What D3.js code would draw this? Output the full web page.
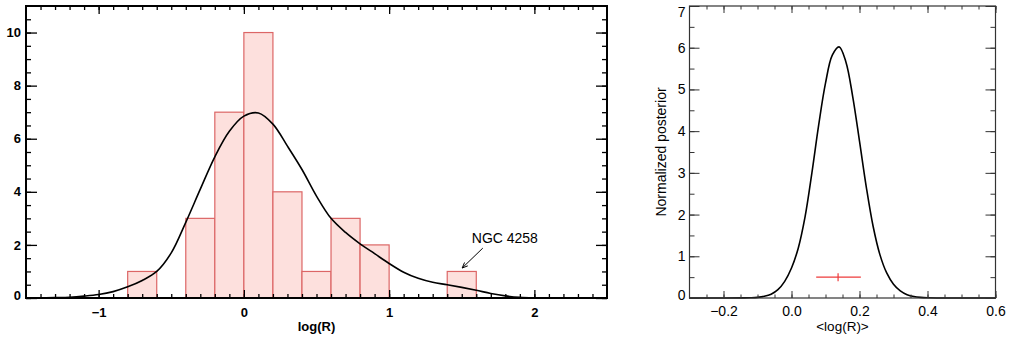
<!DOCTYPE html>
<html>
<head>
<meta charset="utf-8">
<script src="https://cdn.jsdelivr.net/npm/d3@7"></script>
<style>
  html, body { margin: 0; padding: 0; background: #fff; }
  svg { display: block; font-family: "Liberation Sans", Arial, sans-serif; }
</style>
</head>
<body>
<div id="chart"></div>
<script>
// histogram of log(R), bins of width 0.2
const binStarts = [-0.8, -0.4, -0.2, 0.0, 0.2, 0.4, 0.6, 0.8, 1.4]
const binCounts = [1, 3, 7, 10, 4, 1, 3, 2, 1]
const binWidth = 0.2

// smooth density curve over the histogram
const kdeX = [-1.5, -1.4, -1.3, -1.2, -1.1, -1.0, -0.9, -0.8, -0.7, -0.6, -0.5, -0.4, -0.3, -0.2, -0.1,
  0.0, 0.1, 0.2, 0.3, 0.4, 0.5, 0.6, 0.7, 0.8, 0.9, 1.0, 1.1, 1.2, 1.3, 1.4, 1.5, 1.6, 1.7, 1.8, 1.9,
  2.0, 2.1, 2.2, 2.3, 2.4, 2.5]
const kdeY = [0, 0.005, 0.015, 0.03, 0.07, 0.13, 0.24, 0.42, 0.66, 1.0, 1.7, 2.85, 4.1, 5.32, 6.28,
  6.85, 6.97, 6.55, 5.72, 4.84, 3.84, 3.0, 2.47, 2.04, 1.67, 1.3, 0.97, 0.74, 0.59, 0.5, 0.4, 0.29, 0.17, 0.08, 0.025,
  0.005, 0, 0, 0, 0, 0]

// posterior of <log(R)>
const postX = [-0.3, -0.2, -0.14, -0.12, -0.10, -0.08, -0.06, -0.04, -0.02, 0.00, 0.02, 0.04, 0.06, 0.08, 0.10,
  0.12, 0.14, 0.16, 0.18, 0.20, 0.22, 0.24, 0.26, 0.28, 0.30, 0.32, 0.34, 0.36, 0.38, 0.40, 0.44, 0.5, 0.6]
const postY = [0, 0, 0.002, 0.006, 0.016, 0.04, 0.09, 0.2, 0.4, 0.72, 1.2, 1.95, 3.0, 4.15, 5.15,
  5.82, 6.02, 5.66, 4.83, 3.76, 2.66, 1.72, 1.04, 0.6, 0.33, 0.17, 0.08, 0.035, 0.014, 0.005, 0, 0, 0]

// mean and its error
const meanLogR = 0.137
const meanErr = [0.0726, 0.204]
const meanMarkY = 0.5

// annotation
const noteText = "NGC 4258"
const noteAt = [1.569, 2.09]
const arrowFrom = [1.645, 1.88]
const arrowTo = [1.503, 1.13]

const width = 1010
const height = 341

const svg = d3.select("#chart").append("svg")
  .attr("width", width)
  .attr("height", height)

// draws IDL style box axes: ticks on all four sides, pointing in
function boxAxes(g, x, y, opt) {
  const [x0, x1] = x.range()
  const [y0, y1] = y.range()   // y0 bottom, y1 top

  const bottom = d3.axisBottom(x).tickValues(opt.xMajor).tickFormat(opt.xFormat)
    .tickSizeInner(-opt.xMajLen).tickSizeOuter(0).tickPadding(opt.xPad)
  const top = d3.axisTop(x).tickValues(opt.xMajor).tickFormat("")
    .tickSizeInner(-opt.xMajLen).tickSizeOuter(0)
  const left = d3.axisLeft(y).tickValues(opt.yMajor).tickFormat(opt.yFormat)
    .tickSizeInner(-opt.yMajLen).tickSizeOuter(0).tickPadding(opt.yPad)
  const right = d3.axisRight(y).tickValues(opt.yMajor).tickFormat("")
    .tickSizeInner(-opt.yMajLen).tickSizeOuter(0)

  const minor = [
    [d3.axisBottom(x).tickValues(opt.xMinor).tickFormat("").tickSizeInner(-opt.xMinLen).tickSizeOuter(0), y0, 0],
    [d3.axisTop(x).tickValues(opt.xMinor).tickFormat("").tickSizeInner(-opt.xMinLen).tickSizeOuter(0), y1, 0],
    [d3.axisLeft(y).tickValues(opt.yMinor).tickFormat("").tickSizeInner(-opt.yMinLen).tickSizeOuter(0), 0, x0],
    [d3.axisRight(y).tickValues(opt.yMinor).tickFormat("").tickSizeInner(-opt.yMinLen).tickSizeOuter(0), 0, x1]
  ]

  const all = [[bottom, y0, 0], [top, y1, 0], [left, 0, x0], [right, 0, x1]].concat(minor)
  all.forEach(([ax, ty, tx]) => {
    const a = g.append("g").attr("transform", `translate(${tx},${ty})`).call(ax)
    a.select(".domain").remove()
    a.selectAll(".tick line").attr("stroke", opt.color).attr("stroke-width", opt.tickWidth)
    a.selectAll("text")
      .attr("fill", "#000")
      .attr("font-family", "Liberation Sans, Arial, sans-serif")
      .attr("font-size", opt.fontSize)
      .attr("font-weight", opt.fontWeight)
  })

  g.append("rect")
    .attr("x", x0).attr("y", y1)
    .attr("width", x1 - x0).attr("height", y0 - y1)
    .attr("fill", "none")
    .attr("stroke", opt.color)
    .attr("stroke-width", opt.frameWidth)
}

// ---------- left panel ----------
const xL = d3.scaleLinear().domain([-1.5, 2.5]).range([26, 607])
const yL = d3.scaleLinear().domain([0, 11]).range([298, 6])

const left = svg.append("g")

left.append("g")
  .selectAll("rect")
  .data(binStarts)
  .join("rect")
  .attr("x", d => xL(d))
  .attr("y", (d, i) => yL(binCounts[i]))
  .attr("width", d => xL(d + binWidth) - xL(d))
  .attr("height", (d, i) => yL(0) - yL(binCounts[i]))
  .attr("fill", "#fde0dd")
  .attr("stroke", "#dc6666")
  .attr("stroke-width", 1.2)

left.append("path")
  .datum(d3.range(kdeX.length))
  .attr("fill", "none")
  .attr("stroke", "#000")
  .attr("stroke-width", 1.6)
  .attr("d", d3.line().x(i => xL(kdeX[i])).y(i => yL(kdeY[i])).curve(d3.curveCatmullRom))

boxAxes(left, xL, yL, {
  xMajor: [-1, 0, 1, 2], xMinor: d3.range(-14, 25).map(d => d / 10),
  yMajor: [0, 2, 4, 6, 8, 10], yMinor: d3.range(0, 22).map(d => d / 2),
  xFormat: d3.format("d"), yFormat: d3.format("d"),
  xMajLen: 8, xMinLen: 4, yMajLen: 11, yMinLen: 5,
  xPad: 10, yPad: 5, color: "#000", tickWidth: 1.3, frameWidth: 2,
  fontSize: 13, fontWeight: "bold"
})
left.selectAll("text").filter(function () { return this.textContent === "0" && this.getAttribute("dy") === "0.32em" })
  .attr("dy", "0.12em")

left.append("text")
  .attr("x", (xL.range()[0] + xL.range()[1]) / 2)
  .attr("y", 331)
  .attr("text-anchor", "middle")
  .attr("font-size", 13)
  .attr("font-weight", "bold")
  .text("log(R)")

// annotation for NGC 4258
left.append("text")
  .attr("x", xL(noteAt[0]))
  .attr("y", yL(noteAt[1]))
  .attr("font-size", 14)
  .text(noteText)

const ax1 = xL(arrowFrom[0]), ay1 = yL(arrowFrom[1])
const ax2 = xL(arrowTo[0]), ay2 = yL(arrowTo[1])
left.append("line")
  .attr("x1", ax1).attr("y1", ay1).attr("x2", ax2).attr("y2", ay2)
  .attr("stroke", "#000").attr("stroke-width", 1)
const ang = Math.atan2(ay2 - ay1, ax2 - ax1)
const head = 6
left.append("path")
  .attr("d", `M${ax2},${ay2}L${ax2 - head * Math.cos(ang - 0.4)},${ay2 - head * Math.sin(ang - 0.4)}M${ax2},${ay2}L${ax2 - head * Math.cos(ang + 0.4)},${ay2 - head * Math.sin(ang + 0.4)}`)
  .attr("stroke", "#000").attr("stroke-width", 1).attr("fill", "none")

// ---------- right panel ----------
const xR = d3.scaleLinear().domain([-0.3, 0.6]).range([689.5, 995.5])
const yR = d3.scaleLinear().domain([0, 7]).range([298, 6])

const right = svg.append("g")

right.append("path")
  .datum(d3.range(postX.length))
  .attr("fill", "none")
  .attr("stroke", "#000")
  .attr("stroke-width", 1.6)
  .attr("d", d3.line().x(i => xR(postX[i])).y(i => yR(postY[i])).curve(d3.curveCatmullRom))

// mean with error bar
right.append("line")
  .attr("x1", xR(meanErr[0])).attr("x2", xR(meanErr[1]))
  .attr("y1", yR(meanMarkY)).attr("y2", yR(meanMarkY))
  .attr("stroke", "#ee3b3b").attr("stroke-width", 1.2)
right.append("line")
  .attr("x1", xR(meanLogR)).attr("x2", xR(meanLogR))
  .attr("y1", yR(meanMarkY) - 4).attr("y2", yR(meanMarkY) + 4)
  .attr("stroke", "#ee3b3b").attr("stroke-width", 1.2)

boxAxes(right, xR, yR, {
  xMajor: [-0.2, 0, 0.2, 0.4, 0.6], xMinor: d3.range(-5, 13).map(d => d * 0.05),
  yMajor: [0, 1, 2, 3, 4, 5, 6, 7], yMinor: d3.range(0, 15).map(d => d / 2),
  xFormat: d3.format(".1f"), yFormat: d3.format("d"),
  xMajLen: 7, xMinLen: 3.5, yMajLen: 10, yMinLen: 5,
  xPad: 8, yPad: 4, color: "#333", tickWidth: 1, frameWidth: 1.2,
  fontSize: 14, fontWeight: "normal"
})
right.selectAll("text").filter(function () { return this.textContent === "7" }).attr("dy", "0.75em")
right.selectAll("text").filter(function () { return this.textContent === "0" && this.getAttribute("dy") === "0.32em" })
  .attr("dy", "0.1em")

right.append("text")
  .attr("x", (xR.range()[0] + xR.range()[1]) / 2)
  .attr("y", 331)
  .attr("text-anchor", "middle")
  .attr("font-size", 13.5)
  .text("<log(R)>")

right.append("text")
  .attr("transform", `translate(666,152) rotate(-90)`)
  .attr("text-anchor", "middle")
  .attr("font-size", 14)
  .text("Normalized posterior")
</script>
</body>
</html>
